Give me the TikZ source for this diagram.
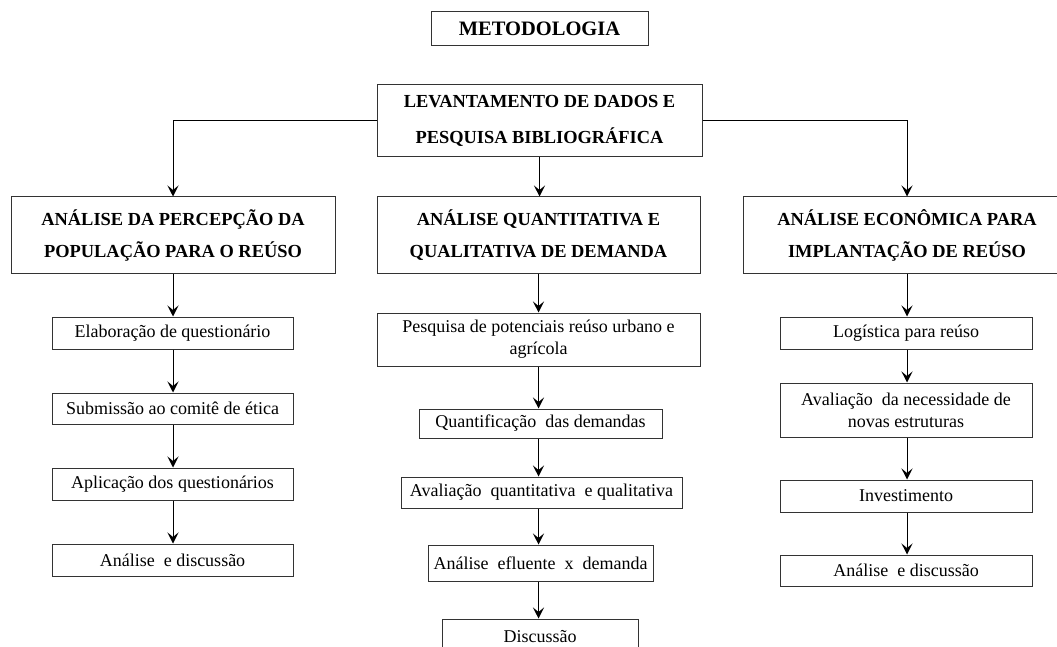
\documentclass[tikz,border=0pt]{standalone}
\usepackage{fontspec}
\setmainfont{Liberation Serif}
\usetikzlibrary{arrows.meta}
\begin{document}
\begin{tikzpicture}[x=1pt,y=-1pt,
  box/.style={draw=black!80, line width=1pt, inner sep=0pt, align=center,
    font=\fontsize{18}{22}\selectfont},
  head/.style={box, font=\bfseries\fontsize{18.4}{32}\selectfont},
  arr/.style={-{Stealth[length=11pt,width=11pt,inset=4.5pt]}, line width=1pt, draw=black}]
\clip (0,0) rectangle (1057,647);
\fill[white] (0,0) rectangle (1057,647);

% title and first stage
\node[box, font=\bfseries\fontsize{20.5}{22}\selectfont, minimum width=217, minimum height=34] (meta) at (539.5,29) {METODOLOGIA};
\node[head, font=\bfseries\fontsize{18.4}{36}\selectfont, minimum width=325, minimum height=72] (lev) at (539.5,121)
  {LEVANTAMENTO DE DADOS E\\PESQUISA  BIBLIOGRÁFICA};

% the three branches
\node[head, minimum width=324, minimum height=76] (A1) at (173,235)
  {ANÁLISE DA PERCEPÇÃO DA\\POPULAÇÃO PARA O REÚSO};
\node[head, minimum width=323, minimum height=76] (B1) at (538.5,235)
  {ANÁLISE QUANTITATIVA E\\QUALITATIVA DE DEMANDA};
\node[head, minimum width=328, minimum height=76] (C1) at (907,235)
  {ANÁLISE ECONÔMICA PARA\\IMPLANTAÇÃO DE REÚSO};

% left column
\node[box, minimum width=241, minimum height=32] (A2) at (172.5,333) {Elaboração de questionário};
\node[box, minimum width=241, minimum height=31] (A3) at (172.5,408.5) {Submissão ao comitê de ética};
\node[box, minimum width=241, minimum height=32] (A4) at (172.5,484) {Aplicação dos questionários};
\node[box, minimum width=241, minimum height=32] (A5) at (172.5,560) {Análise~ e discussão};

% middle column
\node[box, minimum width=323, minimum height=53] (B2) at (538.5,339.5)
  {Pesquisa de potenciais reúso urbano e\\agrícola};
\node[box, minimum width=243, minimum height=29] (B3) at (540.5,423.5) {Quantificação~ das demandas};
\node[box, minimum width=281, minimum height=31] (B4) at (541.5,492.5) {Avaliação~ quantitativa~ e qualitativa};
\node[box, minimum width=225, minimum height=36] (B5) at (540.5,563) {Análise~ efluente~ x~ demanda};
\node[box, minimum width=196, minimum height=36] (B6) at (540,637) {Discussão};

% right column
\node[box, minimum width=252, minimum height=32] (C2) at (906,333) {Logística para reúso};
\node[box, minimum width=252, minimum height=54] (C3) at (906,410)
  {Avaliação~ da necessidade de\\novas estruturas};
\node[box, minimum width=252, minimum height=32] (C4) at (906,496) {Investimento};
\node[box, minimum width=252, minimum height=31] (C5) at (906,570.5) {Análise~ e discussão};

% connectors
\draw[arr] (lev.west) -| (A1.north);
\draw[arr] (lev.east) -| (C1.north);
\draw[arr] (lev.south) -- (lev.south |- B1.north);

\draw[arr] (A1.south) -- (A1.south |- A2.north);
\draw[arr] (A1.south |- A2.south) -- (A1.south |- A3.north);
\draw[arr] (A1.south |- A3.south) -- (A1.south |- A4.north);
\draw[arr] (A1.south |- A4.south) -- (A1.south |- A5.north);

\draw[arr] (B1.south) -- (B1.south |- B2.north);
\draw[arr] (B1.south |- B2.south) -- (B1.south |- B3.north);
\draw[arr] (B1.south |- B3.south) -- (B1.south |- B4.north);
\draw[arr] (B1.south |- B4.south) -- (B1.south |- B5.north);
\draw[arr] (B1.south |- B5.south) -- (B1.south |- B6.north);

\draw[arr] (C1.south) -- (C1.south |- C2.north);
\draw[arr] (C1.south |- C2.south) -- (C1.south |- C3.north);
\draw[arr] (C1.south |- C3.south) -- (C1.south |- C4.north);
\draw[arr] (C1.south |- C4.south) -- (C1.south |- C5.north);
\end{tikzpicture}
\end{document}
